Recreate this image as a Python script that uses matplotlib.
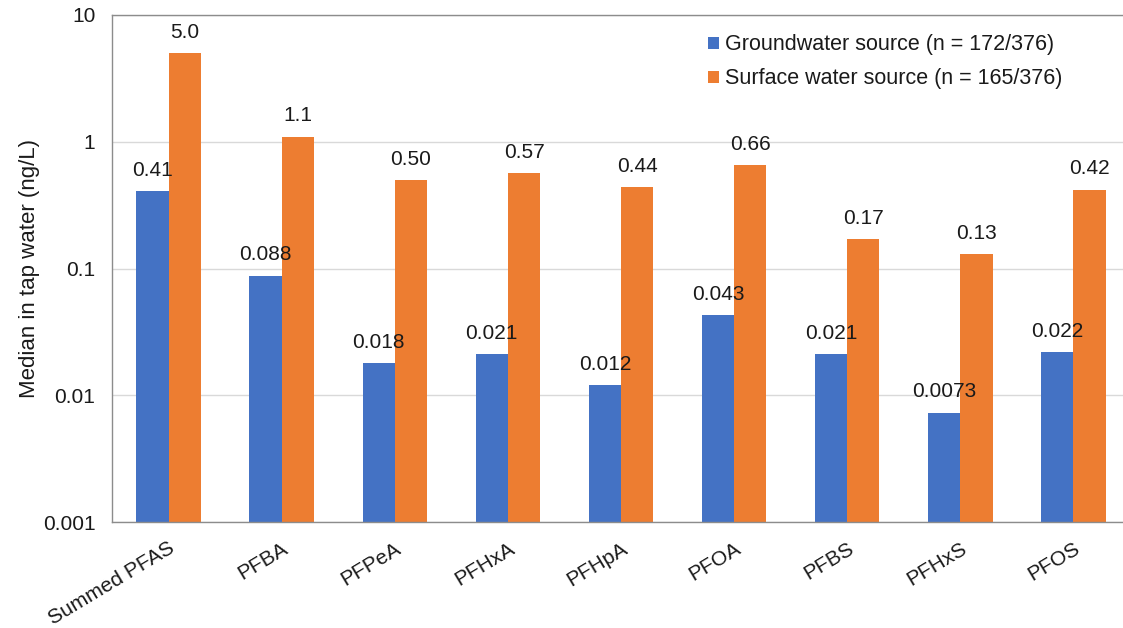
import matplotlib.pyplot as plt
import numpy as np
from matplotlib.ticker import FixedLocator, FuncFormatter, NullLocator

plt.rcParams['font.family'] = ['Liberation Sans', 'DejaVu Sans']

compounds = ["Summed PFAS", "PFBA", "PFPeA", "PFHxA", "PFHpA", "PFOA", "PFBS", "PFHxS", "PFOS"]
groundwater = [0.41, 0.088, 0.018, 0.021, 0.012, 0.043, 0.021, 0.0073, 0.022]
surface = [5.0, 1.1, 0.50, 0.57, 0.44, 0.66, 0.17, 0.13, 0.42]
series_names = ["Groundwater source (n = 172/376)", "Surface water source (n = 165/376)"]
colors = ["#4472C4", "#ED7D31"]

W, H = 1123, 628
fig = plt.figure(figsize=(W / 100, H / 100), dpi=100)
# plot area runs a little past the right edge of the picture, like the reference
left, right, top, bottom = 112, 1130, 15, 522
ax = fig.add_axes([left / W, 1 - bottom / H, (right - left) / W, (bottom - top) / H])

x = np.arange(len(compounds))
bw = 0.285
for vals, off, c, name in zip([groundwater, surface], [-bw / 2, bw / 2], colors, series_names):
    bars = ax.bar(x + off, vals, bw, color=c, label=name, zorder=2)
    for b, v in zip(bars, vals):
        ax.annotate(f"{v:#.2g}", (b.get_x() + b.get_width() / 2, v),
                    xytext=(0, 8), textcoords="offset points",
                    ha="center", va="bottom", fontsize=15, color="#1a1a1a")

ax.set_yscale("log")
ax.set_ylim(0.001, 10)
ax.set_xlim(-0.5, len(compounds) - 0.5)
ax.yaxis.set_major_locator(FixedLocator([0.001, 0.01, 0.1, 1, 10]))
ax.yaxis.set_major_formatter(FuncFormatter(lambda v, p: f"{v:g}"))
ax.yaxis.set_minor_locator(NullLocator())
ax.grid(axis="y", color="#d9d9d9", linewidth=1, zorder=0)
ax.tick_params(axis="y", length=0, pad=12, labelsize=15, labelcolor="#1a1a1a")
ax.tick_params(axis="x", length=0, pad=12, labelsize=15, labelcolor="#1a1a1a")
ax.set_xticks(x)
ax.set_xticklabels(compounds, rotation=31, ha="right", rotation_mode="anchor")

for s in ["left", "bottom", "top"]:
    ax.spines[s].set_color("#8c8c8c")
    ax.spines[s].set_linewidth(1)
ax.spines["right"].set_visible(False)

ax.set_ylabel("Median in tap water (ng/L)", fontsize=16, color="#1a1a1a", labelpad=2)

leg = ax.legend(loc="upper right", bbox_to_anchor=(0.953, 1.0), frameon=False,
                fontsize=15.5, handlelength=0.5, handleheight=0.5, handletextpad=0.3,
                labelspacing=0.6)
for t in leg.get_texts():
    t.set_color("#1a1a1a")

fig.savefig("out.png", dpi=100)
